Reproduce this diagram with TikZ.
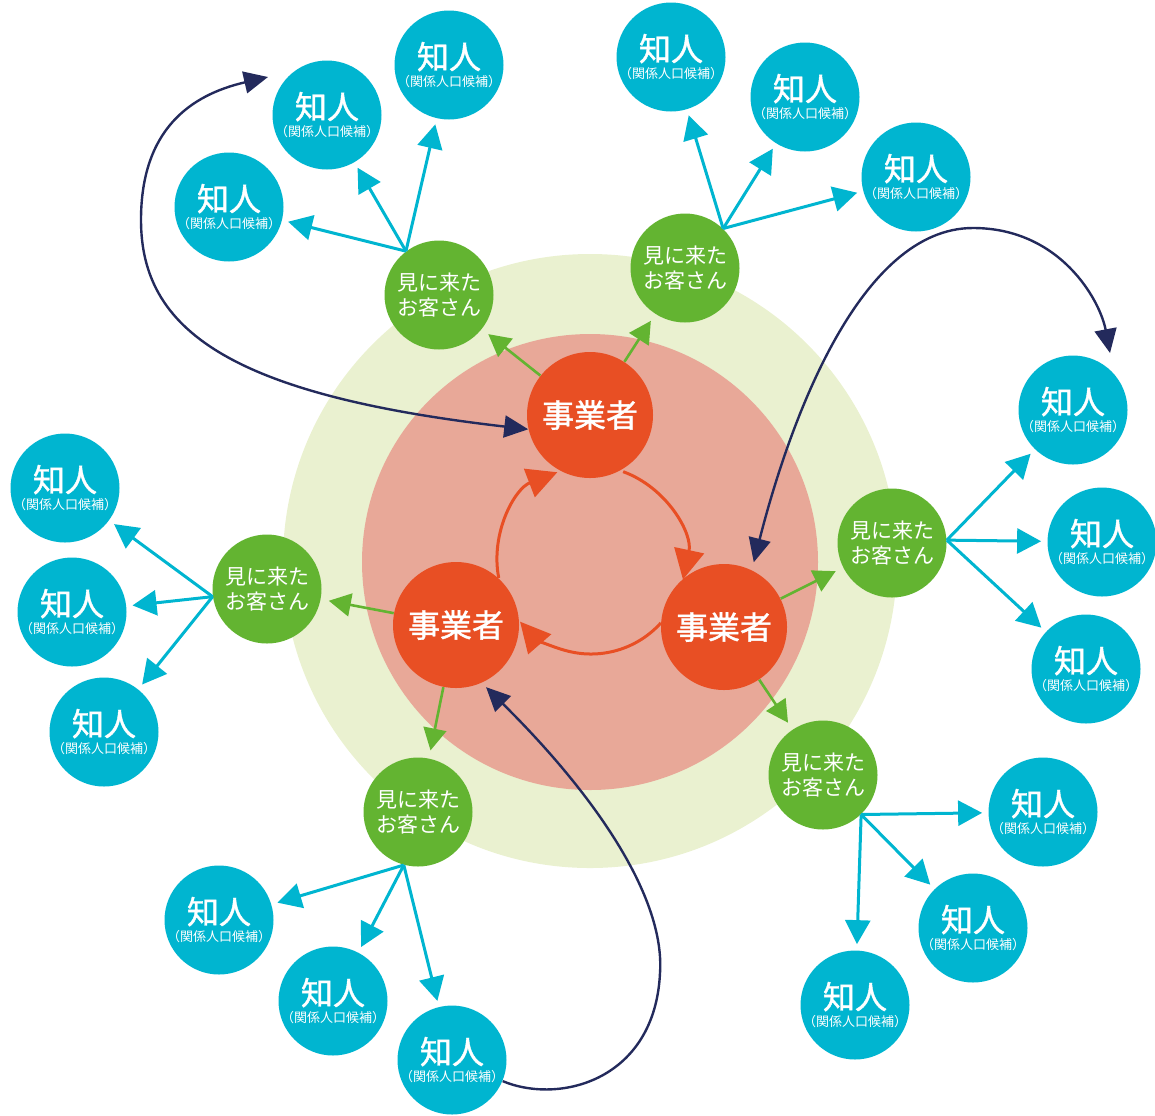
\documentclass[tikz,border=0pt]{standalone}
\usepackage{fontspec}
\setmainfont{Noto Sans CJK JP}[BoldFont=Noto Sans CJK JP,BoldFeatures={FakeBold=1.3}]
\usetikzlibrary{arrows.meta}
\definecolor{ringout}{HTML}{EAF1D0}
\definecolor{ringin}{HTML}{E8A898}
\definecolor{bizred}{HTML}{E84F24}
\definecolor{guestgreen}{HTML}{63B431}
\definecolor{friendblue}{HTML}{00B5D0}
\definecolor{navy}{HTML}{232A5C}
\newcommand{\chijin}{{\bfseries\fontsize{16}{16}\selectfont 知人}\\[-3pt]{\fontsize{6.5}{7}\selectfont （関係人口候補）}}
\newcommand{\kyaku}{見に来た\\お客さん}

\begin{document}
\begin{tikzpicture}[x=0.5pt,y=-0.5pt,
  biz/.style={circle,fill=bizred,text=white,inner sep=0pt,minimum size=63pt,font=\bfseries\fontsize{16}{18}\selectfont},
  guest/.style={circle,fill=guestgreen,text=white,inner sep=0pt,minimum size=54.5pt,align=center,font=\fontsize{10.5}{12.5}\selectfont},
  friend/.style={circle,fill=friendblue,text=white,inner sep=-5pt,minimum size=54.5pt,align=center},
  visit/.style={draw=guestgreen,line width=1.3pt,-{Triangle[length=11pt,width=11.5pt]},shorten >=4pt},
  tell/.style={draw=friendblue,line width=1.5pt,-{Triangle[length=12pt,width=12.5pt]},shorten >=3pt},
  roundtrip/.style={draw=bizred,line width=1.5pt,-{Triangle[length=15pt,width=15pt]}},
  relay/.style={draw=navy,line width=1.2pt}]
\path[use as bounding box] (0,0) rectangle (1155,1115);
\fill[ringout] (590,561) circle[radius=307];
\fill[ringin] (590,562) circle[radius=228];

\node[biz] (T) at (590,415) {事業者};
\node[biz] (R) at (724,627) {事業者};
\node[biz] (L) at (456,625) {事業者};

\node[guest] (G1) at (439,295) {\kyaku};
\node[guest] (G2) at (685,268) {\kyaku};
\node[guest] (G3) at (892,543) {\kyaku};
\node[guest] (G4) at (267,589) {\kyaku};
\node[guest] (G5) at (418,812) {\kyaku};
\node[guest] (G6) at (823,775) {\kyaku};

\node[friend] (K11) at (229,207) {\chijin};
\node[friend] (K12) at (327,115) {\chijin};
\node[friend] (K13) at (449,65) {\chijin};
\node[friend] (K21) at (671,57) {\chijin};
\node[friend] (K22) at (805,97) {\chijin};
\node[friend] (K23) at (916,177) {\chijin};
\node[friend] (K31) at (1073,410) {\chijin};
\node[friend] (K32) at (1102,542) {\chijin};
\node[friend] (K33) at (1086,669) {\chijin};
\node[friend] (K41) at (65,488) {\chijin};
\node[friend] (K42) at (72,612) {\chijin};
\node[friend] (K43) at (104,732) {\chijin};
\node[friend] (K51) at (219,920) {\chijin};
\node[friend] (K52) at (333,1001) {\chijin};
\node[friend] (K53) at (452,1060) {\chijin};
\node[friend] (K61) at (1043,812) {\chijin};
\node[friend] (K62) at (973,928) {\chijin};
\node[friend] (K63) at (855,1005) {\chijin};

% business circle
\coordinate (hub) at (591,560);
\draw[roundtrip] (hub) ++(-70:94) arc[start angle=-70,end angle=12,radius=94];
\draw[roundtrip] (hub) ++(42:94) arc[start angle=42,end angle=139,radius=94];
\draw[roundtrip] (hub) ++(169:94) arc[start angle=169,end angle=249,radius=94];

\draw[visit] (T) -- (G1);
\draw[visit] (T) -- (G2);
\draw[visit] (R) -- (G3);
\draw[visit] (R) -- (G6);
\draw[visit] (L) -- (G4);
\draw[visit] (L) -- (G5);

% word of mouth
\coordinate (s1) at (G1.127);
\coordinate (s2) at (G2.46);
\coordinate (s3) at (G3.3);
\coordinate (s4) at (G4.188);
\coordinate (s5) at (G5.255);
\coordinate (s6) at (G6.314);
\draw[tell] (s1) -- (K11);
\draw[tell] (s1) -- (K12);
\draw[tell] (s1) -- (K13);
\draw[tell] (s2) -- (K21);
\draw[tell] (s2) -- (K22);
\draw[tell] (s2) -- (K23);
\draw[tell] (s3) -- (K31);
\draw[tell] (s3) -- (K32);
\draw[tell] (s3) -- (K33);
\draw[tell] (s4) -- (K41);
\draw[tell] (s4) -- (K42);
\draw[tell] (s4) -- (K43);
\draw[tell] (s5) -- (K51);
\draw[tell] (s5) -- (K52);
\draw[tell] (s5) -- (K53);
\draw[tell] (s6) -- (K61);
\draw[tell] (s6) -- (K62);
\draw[tell] (s6) -- (K63);

% long links
\coordinate (e1) at (268,77);
\coordinate (e2) at (1110,353);
\draw[relay,{Triangle[length=12pt,width=11pt]}-{Triangle[length=12pt,width=11pt]}] (T.193) .. controls (230,395) and (141,330) .. (141,220) .. controls (141,130) and (190,95) .. (e1);
\draw[relay,{Triangle[length=12pt,width=11pt]}-{Triangle[length=12pt,width=11pt]},shorten <=4pt] (R.64) .. controls (790,420) and (860,228) .. (973,228) .. controls (1060,228) and (1100,300) .. (e2);
\draw[relay,{Triangle[length=12pt,width=11pt]}-,shorten <=3pt] (L.-66) .. controls (600,800) and (665,900) .. (660,973) .. controls (655,1080) and (560,1105) .. (K53);
\end{tikzpicture}
\end{document}
